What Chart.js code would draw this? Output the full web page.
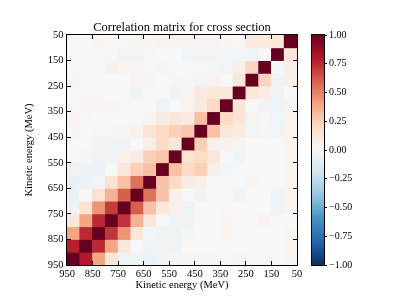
<!DOCTYPE html>
<html lang="en">
<head>
<meta charset="UTF-8">
<title>Correlation matrix for cross section</title>
<script src="https://cdn.jsdelivr.net/npm/chart.js@4.4.1/dist/chart.umd.min.js"></script>
<style>
  html, body { margin: 0; padding: 0; background: #fff; }
  #wrap { position: relative; width: 399px; height: 299px; overflow: hidden; }
  canvas { position: absolute; top: 0; }
  #matrix { left: 0; }
  #bar { left: 300px; }
</style>
</head>
<body>
<div id="wrap">
  <canvas id="matrix" width="399" height="299"></canvas>
  <canvas id="bar" width="99" height="299"></canvas>
</div>
<script>
// bin centres (MeV): rows top -> bottom, columns left -> right (x axis runs 950 -> 50)
const yBins = [75, 125, 175, 225, 275, 325, 375, 425, 475, 525, 575, 625, 675, 725, 775, 825, 875, 925];
const xBins = [925, 875, 825, 775, 725, 675, 625, 575, 525, 475, 425, 375, 325, 275, 225, 175, 125, 75];
const binWidth = 50;
const tickValues = [50, 150, 250, 350, 450, 550, 650, 750, 850, 950];
const cbTicks = [-1, -0.75, -0.5, -0.25, 0, 0.25, 0.5, 0.75, 1];

// correlation, one row per yBins entry, columns in xBins order
const corrRows = [
  [0.00, 0.00, 0.02, 0.00, 0.01, 0.02, 0.02, 0.03, 0.03, 0.03, 0.03, 0.03, 0.02, 0.00, 0.10, 0.10, 0.12, 1.00],
  [0.00, 0.00, 0.00, -0.01, -0.03, -0.03, -0.01, 0.00, 0.00, -0.03, -0.03, -0.03, -0.03, -0.03, -0.03, 0.00, 1.00, 0.12],
  [0.00, 0.00, 0.00, 0.04, 0.02, 0.02, 0.01, 0.02, 0.00, 0.00, -0.01, -0.02, -0.03, 0.06, 0.22, 1.00, 0.00, 0.06],
  [-0.02, 0.00, 0.00, 0.00, 0.00, 0.03, 0.02, 0.00, -0.02, -0.01, -0.02, 0.03, 0.00, 0.12, 1.00, 0.22, -0.04, 0.06],
  [0.00, 0.00, 0.00, 0.00, -0.01, -0.03, 0.00, 0.00, -0.04, 0.03, 0.10, 0.12, 0.12, 1.00, 0.12, 0.08, -0.04, 0.00],
  [0.00, 0.03, 0.03, 0.02, 0.01, 0.00, 0.00, -0.04, 0.00, 0.04, 0.10, 0.20, 1.00, 0.13, 0.00, -0.03, -0.04, 0.03],
  [0.03, 0.01, 0.00, 0.00, 0.00, 0.00, 0.03, 0.08, 0.12, 0.08, 0.30, 1.00, 0.20, 0.13, 0.03, -0.01, -0.03, 0.03],
  [0.02, 0.00, -0.01, -0.01, -0.02, 0.04, 0.15, 0.20, 0.25, 0.28, 1.00, 0.30, 0.12, 0.10, -0.03, -0.02, -0.03, 0.02],
  [0.00, 0.00, -0.03, -0.03, -0.03, 0.00, 0.06, 0.20, 0.12, 1.00, 0.25, 0.05, 0.04, 0.02, 0.00, 0.00, 0.00, 0.02],
  [0.00, -0.02, -0.04, -0.04, 0.05, 0.08, 0.25, 0.28, 1.00, 0.15, 0.20, 0.12, 0.00, -0.03, 0.00, 0.00, 0.00, 0.02],
  [-0.04, -0.06, -0.06, 0.00, 0.12, 0.25, 0.30, 1.00, 0.30, 0.20, 0.25, 0.06, -0.03, 0.00, 0.00, 0.00, 0.00, 0.02],
  [-0.07, -0.06, -0.03, 0.15, 0.30, 0.55, 1.00, 0.30, 0.20, 0.08, 0.06, 0.00, 0.00, 0.00, 0.02, 0.00, 0.00, 0.02],
  [-0.07, 0.00, 0.15, 0.35, 0.60, 1.00, 0.55, 0.30, 0.05, 0.00, -0.03, 0.00, 0.00, -0.03, 0.00, 0.00, -0.04, 0.02],
  [-0.04, 0.15, 0.45, 0.70, 1.00, 0.60, 0.30, 0.12, 0.05, -0.04, 0.00, 0.00, 0.01, 0.00, 0.00, 0.00, -0.03, 0.02],
  [0.12, 0.40, 0.75, 1.00, 0.72, 0.35, 0.12, 0.00, -0.04, -0.04, 0.00, 0.00, 0.02, 0.00, 0.00, 0.03, 0.00, 0.00],
  [0.40, 0.75, 1.00, 0.72, 0.45, 0.12, -0.03, -0.05, -0.05, -0.02, 0.00, 0.00, 0.02, 0.00, 0.00, 0.00, 0.00, 0.02],
  [0.78, 1.00, 0.75, 0.40, 0.12, 0.00, -0.05, -0.04, -0.03, 0.00, 0.00, 0.00, 0.00, 0.00, 0.00, 0.00, 0.00, 0.02],
  [1.00, 0.80, 0.40, 0.12, -0.04, -0.05, -0.06, -0.04, -0.02, 0.02, 0.02, 0.02, 0.00, -0.02, 0.00, 0.00, 0.00, 0.02]
];

// RdBu_r colour map, -1 -> 1
const rdbu = ['#053061', '#2166ac', '#4393c3', '#92c5de', '#d1e5f0', '#f7f7f7',
              '#fddbc7', '#f4a582', '#d6604d', '#b2182b', '#67001f'];

function hexRgb(h) {
  return [1, 3, 5].map(i => parseInt(h.substr(i, 2), 16));
}

function colorFor(v) {
  const t = (Math.max(-1, Math.min(1, v)) + 1) / 2 * (rdbu.length - 1);
  const i = Math.min(Math.floor(t), rdbu.length - 2);
  const f = t - i;
  const a = hexRgb(rdbu[i]), b = hexRgb(rdbu[i + 1]);
  const c = a.map((x, k) => Math.round(x + (b[k] - x) * f));
  return `rgb(${c[0]},${c[1]},${c[2]})`;
}

Chart.defaults.font.family = "'Liberation Serif', 'Times New Roman', serif";
Chart.defaults.color = '#000';

// black frame, plus inward ticks on all four sides when asked
const framePlugin = {
  id: 'frame',
  afterDatasetsDraw(chart, args, opts) {
    const { ctx, chartArea: a } = chart;
    ctx.save();
    ctx.strokeStyle = '#000';
    ctx.lineWidth = 1;
    if (opts.ticks) {
      const L = 4;
      ctx.beginPath();
      opts.ticks.forEach(v => {
        const x = Math.floor(chart.scales.x.getPixelForValue(v)) + 0.5;
        const y = Math.floor(chart.scales.y.getPixelForValue(v)) + 0.5;
        if (x > a.left + 1 && x < a.right - 1) {
          ctx.moveTo(x, a.top); ctx.lineTo(x, a.top + L);
          ctx.moveTo(x, a.bottom); ctx.lineTo(x, a.bottom - L);
        }
        if (y > a.top + 1 && y < a.bottom - 1) {
          ctx.moveTo(a.left, y); ctx.lineTo(a.left + L, y);
          ctx.moveTo(a.right, y); ctx.lineTo(a.right - L, y);
        }
      });
      ctx.stroke();
    }
    ctx.strokeRect(a.left - 0.5, a.top - 0.5, a.width + 1, a.height + 1);
    ctx.restore();
  }
};

const fixTicks = s => { s.ticks = tickValues.map(v => ({ value: v })); };

const datasets = corrRows.map((row, r) => ({
  data: row.map((v, c) => ({ x: xBins[c], y: [yBins[r] - binWidth / 2, yBins[r] + binWidth / 2] })),
  backgroundColor: row.map(colorFor)
}));

new Chart(document.getElementById('matrix'), {
  type: 'bar',
  data: { datasets: datasets },
  options: {
    responsive: false,
    animation: false,
    events: [],
    layout: { padding: { left: 0, right: 102, top: 20, bottom: 0 } },
    datasets: {
      bar: { grouped: false, barPercentage: 1, categoryPercentage: 1, borderWidth: 0, inflateAmount: 0.4 }
    },
    plugins: {
      legend: { display: false },
      tooltip: { enabled: false },
      title: {
        display: true,
        text: 'Correlation matrix for cross section',
        fullSize: false,
        padding: 0,
        font: { size: 12.5, weight: 'normal' }
      },
      frame: { ticks: tickValues }
    },
    scales: {
      x: {
        type: 'linear', reverse: true, min: 50, max: 950, offset: false,
        afterBuildTicks: fixTicks,
        afterFit: s => { s.height = 34; },
        grid: { display: false, drawTicks: false },
        border: { display: false },
        ticks: { padding: 3, maxRotation: 0, autoSkip: false, font: { size: 10.5 }, callback: v => String(v) },
        title: { display: true, text: 'Kinetic energy (MeV)', font: { size: 10.5 }, padding: { top: 0, bottom: 7 } }
      },
      y: {
        type: 'linear', reverse: true, min: 50, max: 950,
        afterBuildTicks: fixTicks,
        afterFit: s => { s.width = 67; },
        grid: { display: false, drawTicks: false },
        border: { display: false },
        ticks: { padding: 3.5, autoSkip: false, font: { size: 10.5 }, callback: v => String(v) },
        title: { display: true, text: 'Kinetic energy (MeV)', font: { size: 10.5 }, padding: { top: 23, bottom: 0 } }
      }
    }
  },
  plugins: [framePlugin]
});

// colour bar
function barGradient(context) {
  const chart = context.chart;
  if (!chart.chartArea) return null;
  const y = chart.scales.y;
  const g = chart.ctx.createLinearGradient(0, y.getPixelForValue(-1), 0, y.getPixelForValue(1));
  rdbu.forEach((c, k) => g.addColorStop(k / (rdbu.length - 1), c));
  return g;
}

new Chart(document.getElementById('bar'), {
  type: 'bar',
  data: {
    labels: ['r'],
    datasets: [{ data: [[-1, 1]], backgroundColor: barGradient, borderWidth: 0, barPercentage: 1, categoryPercentage: 1 }]
  },
  options: {
    responsive: false,
    animation: false,
    events: [],
    layout: { padding: { left: 12, top: 35, bottom: 34, right: 0 } },
    plugins: {
      legend: { display: false },
      tooltip: { enabled: false },
      frame: {}
    },
    scales: {
      x: { display: false },
      y: {
        position: 'right', min: -1, max: 1,
        afterBuildTicks: s => { s.ticks = cbTicks.map(v => ({ value: v })); },
        afterFit: s => { s.width = 75; },
        grid: { display: true, drawOnChartArea: false, drawTicks: true, tickLength: 3, color: '#000' },
        border: { display: false },
        ticks: {
          padding: 2,
          font: { size: 10 },
          callback: v => (v < 0 ? '\u2212' : '') + Math.abs(v).toFixed(2)
        }
      }
    }
  },
  plugins: [framePlugin]
});
</script>
</body>
</html>
